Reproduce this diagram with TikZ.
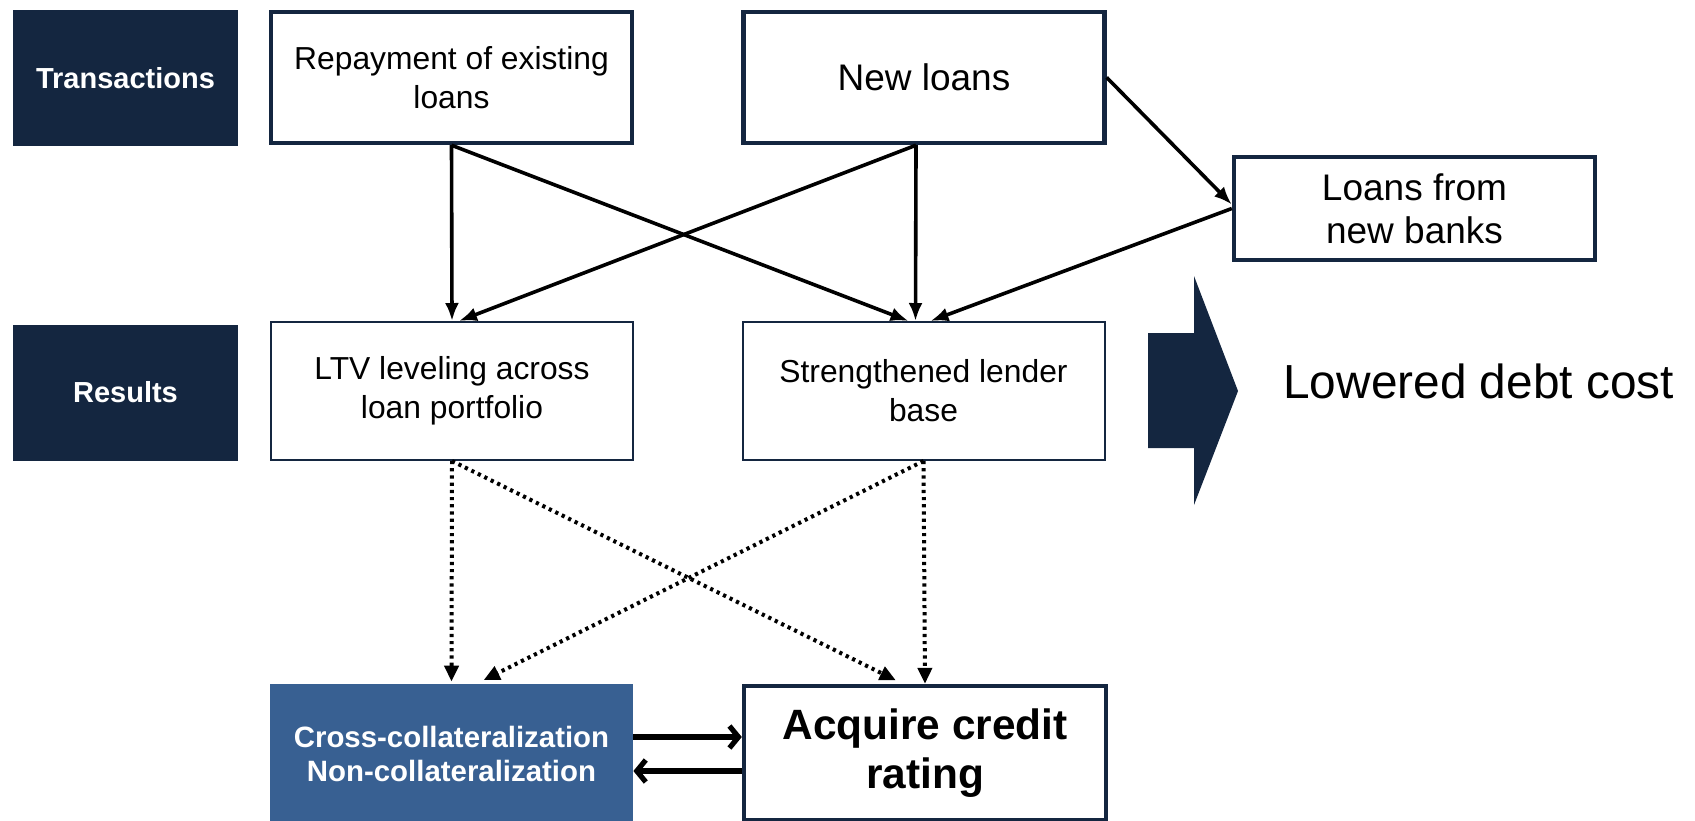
\documentclass[tikz,border=0pt]{standalone}
\usepackage{fontspec}
\setmainfont{Liberation Sans}
\usetikzlibrary{arrows.meta,calc}
\definecolor{navy}{RGB}{20,38,64}
\definecolor{steel}{RGB}{56,96,146}

\begin{document}
\begin{tikzpicture}[x=0.5pt,y=-0.5pt,
    lane/.style={fill=navy,text=white,font=\bfseries\fontsize{14.5}{17}\selectfont,minimum width=112.5pt,minimum height=68pt,inner sep=0pt},
    txbox/.style={draw=navy,line width=2.2pt,fill=white,align=center,minimum width=180.5pt,inner sep=0pt},
    resbox/.style={draw=navy,line width=1pt,align=center,minimum width=181pt,minimum height=69pt,inner sep=0pt,font=\fontsize{15.9}{19.5}\selectfont},
    link/.style={line width=1.8pt,-{Latex[length=9pt,width=7pt]}},
    dots/.style={line width=2pt,dash pattern=on 1.6pt off 2pt,-{Triangle[length=8pt,width=7pt]}},
    swap/.style={line width=2.6pt,-{Straight Barb[length=4.5pt,width=11pt]}}]
    \useasboundingbox (0,0) rectangle (1695,820);

    % row labels
    \node[lane] (trans) at (125.5,78) {Transactions};
    \node[lane] (res) at (125.5,392.5) {Results};

    % transactions
    \node[txbox,minimum height=65.5pt,font=\fontsize{15.9}{19.5}\selectfont] (repay) at (451.5,77.5) {Repayment of existing\\loans};
    \node[txbox,minimum height=65.5pt,font=\fontsize{18.5}{21.6}\selectfont] (new) at (924,77.5) {New loans};
    \node[txbox,minimum height=51.5pt,font=\fontsize{18.5}{21.6}\selectfont] (banks) at (1414.5,208.5) {Loans from\\new banks};

    % results
    \node[resbox] (ltv) at (452,391) {LTV leveling across\\loan portfolio};
    \node[resbox] (lender) at (923.5,391) {Strengthened lender\\base};

    \node[fill=steel,text=white,align=center,inner sep=0pt,minimum width=181.5pt,minimum height=70pt,
          font=\bfseries\fontsize{14.7}{17.3}\selectfont] (cross) at (451.5,754) {Cross-collateralization\\Non-collateralization};
    \node[txbox,minimum width=181pt,minimum height=67pt,font=\bfseries\fontsize{21.2}{24.3}\selectfont] (rating) at (925,753) {Acquire credit\\rating};

    % big arrow and outcome
    \fill[navy] (1148,333) -- (1194,333) -- (1194,276) -- (1238,391) -- (1194,505) -- (1194,448) -- (1148,448) -- cycle;
    \node[anchor=west,inner sep=0pt,font=\fontsize{23.9}{28}\selectfont] (cost) at (1283,381) {Lowered debt cost};

    % solid links
    \coordinate (newfoot) at ([xshift=-4pt]new.south);
    \draw[link] (repay.south) -- (ltv.north);
    \draw[link] (repay.south) -- ([xshift=-7.5pt]lender.north);
    \draw[link] (newfoot) -- ([xshift=3.5pt]ltv.north);
    \draw[link] (newfoot) -- ([xshift=-4pt]lender.north);
    \draw[link] (new.east) -- ([yshift=2pt]banks.west);
    \draw[link] (banks.west) -- ([xshift=3.5pt]lender.north);

    % dotted links
    \draw[dots] (ltv.south) -- ([yshift=1pt]cross.north);
    \draw[dots,shorten >=4pt] (ltv.south) -- ([xshift=-11pt]rating.north);
    \draw[dots,shorten >=4pt] (lender.south) -- ([xshift=12.5pt]cross.north);
    \draw[dots] (lender.south) -- (rating.north);

    % both ways between the bottom boxes
    \coordinate (upper) at ([yshift=8.5pt]cross.east);
    \coordinate (lower) at ([yshift=-8.5pt]cross.east);
    \draw[swap] (upper) -- (upper -| rating.west);
    \draw[swap] (lower -| rating.west) -- (lower);
\end{tikzpicture}
\end{document}
